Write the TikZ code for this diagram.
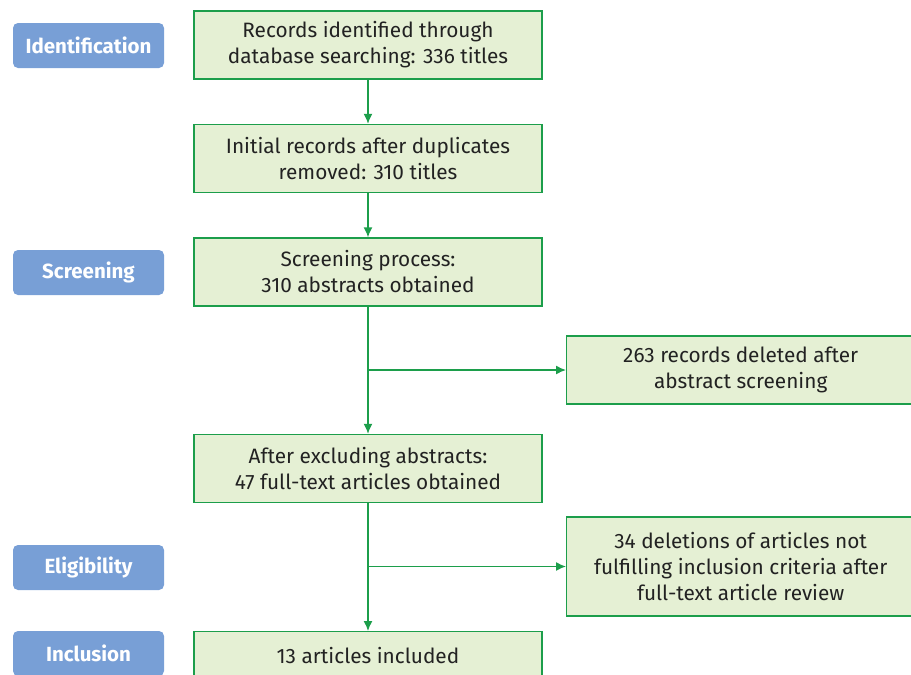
\documentclass[tikz,border=0pt]{standalone}
\usepackage{fontspec}
\setmainfont{Fira Sans}
\usetikzlibrary{arrows.meta}
\definecolor{lblblue}{HTML}{789FD6}
\definecolor{boxfill}{HTML}{E5F0D4}
\definecolor{boxline}{HTML}{1C9E4B}
\definecolor{txt}{HTML}{222222}
\begin{document}
\begin{tikzpicture}[x=1pt,y=-1pt,
  stage/.style={fill=lblblue,rounded corners=5pt,minimum width=151pt,minimum height=45pt,inner sep=0pt,text=white,font=\fontsize{20.5}{24}\selectfont\bfseries},
  mainbox/.style={draw=boxline,line width=1.4pt,fill=boxfill,minimum width=348pt,minimum height=68pt,inner sep=0pt,align=center,text=txt,font=\fontsize{20.8}{26}\selectfont},
  conn/.style={draw=boxline,line width=1.4pt},
  arr/.style={conn,-{Latex[length=10pt,width=9pt]}}]
\useasboundingbox (0,0) rectangle (911,675);
\clip (0,0) rectangle (911,675);
\node[stage] (s1) at (88.5,45.5) {Identification};
\node[stage] (s2) at (88.5,272.5) {Screening};
\node[stage] (s3) at (88.5,567.5) {Eligibility};
\node[stage] (s4) at (88.5,653.5) {Inclusion};
\node[mainbox] (b1) at (368,45) {Records identified through\\database searching: 336 titles};
\node[mainbox] (b2) at (368,158.5) {Initial records after duplicates\\removed: 310 titles};
\node[mainbox] (b3) at (368,272) {Screening process:\\310 abstracts obtained};
\node[mainbox] (b4) at (368,468.5) {After excluding abstracts:\\47 full-text articles obtained};
\node[mainbox,anchor=north,minimum height=47pt] (b5) at (368,631) {13 articles included};
\node[mainbox,anchor=west] (r1) at (566,370) {263 records deleted after\\abstract screening};
\node[mainbox,anchor=west,minimum height=99pt] (r2) at (566,566.5) {34 deletions of articles not\\fulfilling inclusion criteria after\\full-text article review};
\draw[arr] (b1) -- (b2);
\draw[arr] (b2) -- (b3);
\draw[arr] (b3) -- (b4);
\draw[arr] (b4) -- (b5);
\draw[arr] (b3.south |- r1.west) -- (r1.west);
\draw[arr] (b4.south |- r2.west) -- (r2.west);
\end{tikzpicture}
\end{document}
